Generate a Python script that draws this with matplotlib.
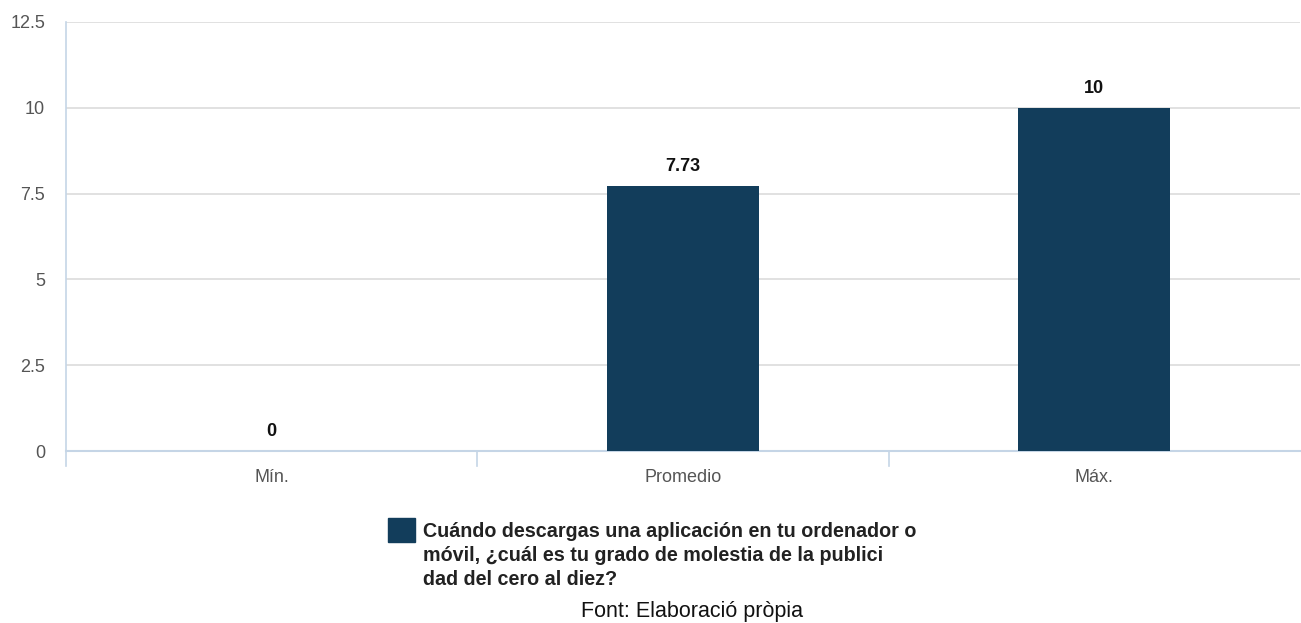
import matplotlib
matplotlib.use("Agg")
import matplotlib.pyplot as plt
from matplotlib.patches import Rectangle

plt.rcParams['font.family'] = ['Liberation Sans', 'DejaVu Sans']

categories = ["Mín.", "Promedio", "Máx."]
values = [0, 7.73, 10]
value_labels = ["0", "7.73", "10"]
y_ticks = [0, 2.5, 5, 7.5, 10, 12.5]
y_tick_labels = ["0", "2.5", "5", "7.5", "10", "12.5"]
series_name = ("Cuándo descargas una aplicación en tu ordenador o\n"
               "móvil, ¿cuál es tu grado de molestia de la publici\n"
               "dad del cero al diez?")
source_text = "Font: Elaboració pròpia"

bar_color = "#123d5b"
grid_color = "#dcdcdc"
axis_color = "#c5d5e6"
tick_text_color = "#555555"

W, H = 1301, 623
fig = plt.figure(figsize=(W / 100, H / 100), dpi=100)
ax = fig.add_axes([66 / W, 1 - 451 / H, (1300 - 66) / W, (451 - 22) / H])

x = list(range(len(categories)))
ax.bar(x, values, width=0.37, color=bar_color, zorder=3)
for xi, v, lab in zip(x, values, value_labels):
    ax.annotate(lab, (xi, v), xytext=(0, 8), textcoords="offset points",
                ha="center", va="bottom", fontsize=13, fontweight="bold",
                color="#111111", zorder=4)

ax.set_xlim(-0.5, len(categories) - 0.5)
ax.set_ylim(0, 12.5)
ax.set_yticks(y_ticks)
ax.set_yticklabels(y_tick_labels)
ax.set_xticks(x)
ax.set_xticklabels(categories)
ax.tick_params(axis="y", length=0, pad=15, labelsize=13, labelcolor=tick_text_color)
ax.tick_params(axis="x", length=0, pad=13, labelsize=13, labelcolor=tick_text_color)

# category separators below the baseline
for b in [0.5, 1.5]:
    ax.plot([b, b], [0, -0.45], color=axis_color, lw=1.2, clip_on=False, zorder=2)

ax.grid(axis="y", color=grid_color, lw=1.2, zorder=0)
for side in ["top", "right"]:
    ax.spines[side].set_visible(False)
ax.spines["left"].set_color(axis_color)
ax.spines["left"].set_linewidth(1.2)
ax.spines["left"].set_bounds(-0.45, 12.5)
ax.spines["bottom"].set_color(axis_color)
ax.spines["bottom"].set_linewidth(1.5)
ax.spines["left"].set_zorder(2)

# legend
fig.patches.append(Rectangle((388 / W, 1 - 542 / H), 27 / W, 24 / H,
                             transform=fig.transFigure, color=bar_color))
fig.text(423 / W, 1 - 522 / H, series_name, ha="left", va="top",
         fontsize=14.2, fontweight="bold", color="#222222", linespacing=1.33)

fig.text(692 / W, 1 - 612 / H, source_text, ha="center", va="center",
         fontsize=15.5, color="#111111")

fig.savefig("out.png", dpi=100)
